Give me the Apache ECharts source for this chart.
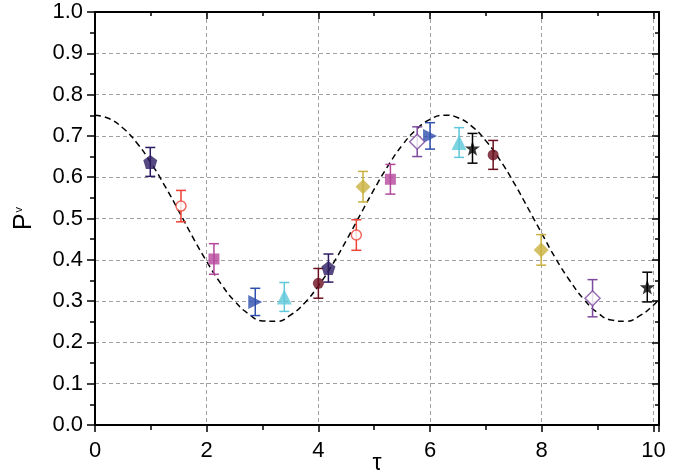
<!DOCTYPE html>
<html>
<head>
<meta charset="utf-8">
<script src="https://cdn.jsdelivr.net/npm/echarts@6/dist/echarts.min.js"></script>
<style>html,body{margin:0;padding:0;background:#fff}#c{width:682px;height:476px}</style>
</head>
<body>
<div id="c"></div>
<script>
// ---- data (tau, P, error) ----
const navyPentagon = [[0.99, 0.637, 0.035], [4.18, 0.380, 0.034]];
const redOpenCircle = [[1.54, 0.530, 0.038], [4.68, 0.460, 0.037]];
const magentaSquare = [[2.13, 0.402, 0.037], [5.29, 0.595, 0.036]];
const blueRightTriangle = [[2.87, 0.298, 0.033], [6.00, 0.700, 0.032]];
const cyanTriangle = [[3.39, 0.310, 0.035], [6.52, 0.684, 0.036]];
const maroonCircle = [[4.00, 0.343, 0.036], [7.13, 0.654, 0.035]];
const oliveDiamond = [[4.80, 0.577, 0.037], [7.99, 0.424, 0.037]];
const purpleOpenDiamond = [[5.77, 0.686, 0.036], [8.91, 0.307, 0.045]];
const blackStar = [[6.76, 0.670, 0.036], [9.89, 0.334, 0.036]];

// dashed model curve
const curveTau = [0,0.25,0.5,0.75,1,1.25,1.5,1.75,2,2.25,2.5,2.75,3,3.25,3.5,3.75,4,4.25,4.5,4.75,5,5.25,5.5,5.75,6,6.25,6.5,6.75,7,7.25,7.5,7.75,8,8.25,8.5,8.75,9,9.25,9.5,9.75,10,10.1];
const curveP = [0.750,0.742,0.719,0.683,0.635,0.579,0.518,0.455,0.396,0.343,0.300,0.269,0.252,0.251,0.266,0.295,0.337,0.388,0.447,0.509,0.571,0.628,0.677,0.715,0.740,0.750,0.744,0.723,0.688,0.642,0.587,0.526,0.464,0.403,0.350,0.305,0.272,0.254,0.251,0.264,0.290,0.305];

const xTickStep = 2;
const yTickStep = 0.1;

// ---- styles ----
const pentagon = 'path://M0,-10 L9.51,-3.09 L5.88,8.09 L-5.88,8.09 L-9.51,-3.09 Z';
const star = 'path://M0,-10 L2.35,-3.24 L9.51,-3.09 L3.8,1.24 L5.88,8.09 L0,4 L-5.88,8.09 L-3.8,1.24 L-9.51,-3.09 L-2.35,-3.24 Z';
const groups = [
  {d: navyPentagon, color: '#2d1b62', symbol: pentagon, size: 14, open: false},
  {d: redOpenCircle, color: '#ef4136', symbol: 'circle', size: 10, open: true},
  {d: magentaSquare, color: '#b5479b', symbol: 'rect', size: 11, open: false},
  {d: blueRightTriangle, color: '#2e4fae', symbol: 'triangle', size: 14, open: false, rotate: -90},
  {d: cyanTriangle, color: '#5ec8da', symbol: 'triangle', size: 15, open: false},
  {d: maroonCircle, color: '#6a0f1f', symbol: 'circle', size: 11, open: false},
  {d: oliveDiamond, color: '#c9b13f', symbol: 'diamond', size: 15, open: false},
  {d: purpleOpenDiamond, color: '#7d4a9e', symbol: 'diamond', size: 15, open: true},
  {d: blackStar, color: '#000000', symbol: star, size: 15, open: false}
];

const series = [{
  type: 'line', data: curveTau.map((t, i) => [t, curveP[i]]), smooth: true,
  showSymbol: false, silent: true, z: 1,
  lineStyle: {color: '#000', width: 1.5, type: [6, 4]}
}];

groups.forEach(g => {
  series.push({
    type: 'custom', z: 2, silent: true,
    data: g.d,
    renderItem: function (params, api) {
      const x = api.value(0), y = api.value(1), e = api.value(2);
      const top = api.coord([x, y + e]);
      const bot = api.coord([x, y - e]);
      const cap = 5;
      const st = {stroke: g.color, lineWidth: 1.5};
      return {type: 'group', children: [
        {type: 'line', shape: {x1: top[0], y1: top[1], x2: bot[0], y2: bot[1]}, style: st},
        {type: 'line', shape: {x1: top[0] - cap, y1: top[1], x2: top[0] + cap, y2: top[1]}, style: st},
        {type: 'line', shape: {x1: bot[0] - cap, y1: bot[1], x2: bot[0] + cap, y2: bot[1]}, style: st}
      ]};
    }
  });
  series.push({
    type: 'scatter', z: 3, silent: true,
    data: g.d.map(p => [p[0], p[1]]),
    symbol: g.symbol, symbolSize: g.size, symbolRotate: g.rotate || 0,
    itemStyle: g.open ? {color: '#fff', borderColor: g.color, borderWidth: 1.5} : {color: g.color}
  });
});

const font = 'Liberation Sans, Arial, sans-serif';
const axLine = {show: true, onZero: false, lineStyle: {color: '#000', width: 2}};
const split = {show: true, lineStyle: {color: '#a0a0a0', type: [4, 3], width: 1}};

const option = {
  animation: false,
  grid: {left: 95, right: 23, top: 12, bottom: 51, containLabel: false, outerBoundsMode: 'none'},
  xAxis: [{
    type: 'value', min: 0, max: 10.1, interval: xTickStep,
    axisLine: axLine,
    axisTick: {show: true, length: 7, lineStyle: {color: '#000', width: 1.5}},
    minorTick: {show: true, splitNumber: 2, length: 5, lineStyle: {color: '#000', width: 1.5}},
    axisLabel: {color: '#000', fontSize: 22, fontFamily: font, margin: 15, showMaxLabel: false,
      formatter: v => (Math.abs(v % 2) < 1e-9 ? String(v) : '')},
    splitLine: split,
    name: 'τ', nameLocation: 'middle', nameGap: 27, nameMoveOverlap: false,
    nameTextStyle: {color: '#000', fontSize: 23, fontFamily: font}
  }, {
    type: 'value', position: 'top', min: 0, max: 10.1, interval: xTickStep,
    axisLine: axLine,
    axisTick: {show: true, inside: true, length: 7, lineStyle: {color: '#000', width: 1.5}},
    minorTick: {show: true, splitNumber: 2, length: 4, lineStyle: {color: '#000', width: 1.5}},
    axisLabel: {show: false}, splitLine: {show: false}
  }],
  yAxis: [{
    type: 'value', min: 0, max: 1, interval: yTickStep,
    axisLine: axLine,
    axisTick: {show: true, length: 8, lineStyle: {color: '#000', width: 1.5}},
    minorTick: {show: true, splitNumber: 2, length: 5, lineStyle: {color: '#000', width: 1.5}},
    axisLabel: {color: '#000', fontSize: 22, fontFamily: font, margin: 12,
      formatter: v => v.toFixed(1)},
    splitLine: split,
    name: '{p|P}{s|v}', nameLocation: 'middle', nameGap: 58, nameRotate: 90, nameMoveOverlap: false,
    nameTextStyle: {rich: {
      p: {color: '#000', fontSize: 25, lineHeight: 26, fontFamily: font},
      s: {color: '#000', fontSize: 11, lineHeight: 11, fontFamily: font, verticalAlign: 'top', padding: [2, 0, 0, 1]}
    }}
  }, {
    type: 'value', position: 'right', min: 0, max: 1, interval: yTickStep,
    axisLine: axLine,
    axisTick: {show: true, inside: true, length: 7, lineStyle: {color: '#000', width: 1.5}},
    minorTick: {show: true, splitNumber: 2, length: 4, lineStyle: {color: '#000', width: 1.5}},
    axisLabel: {show: false}, splitLine: {show: false}
  }],
  series: series
};

echarts.init(document.getElementById('c')).setOption(option);
</script>
</body>
</html>
